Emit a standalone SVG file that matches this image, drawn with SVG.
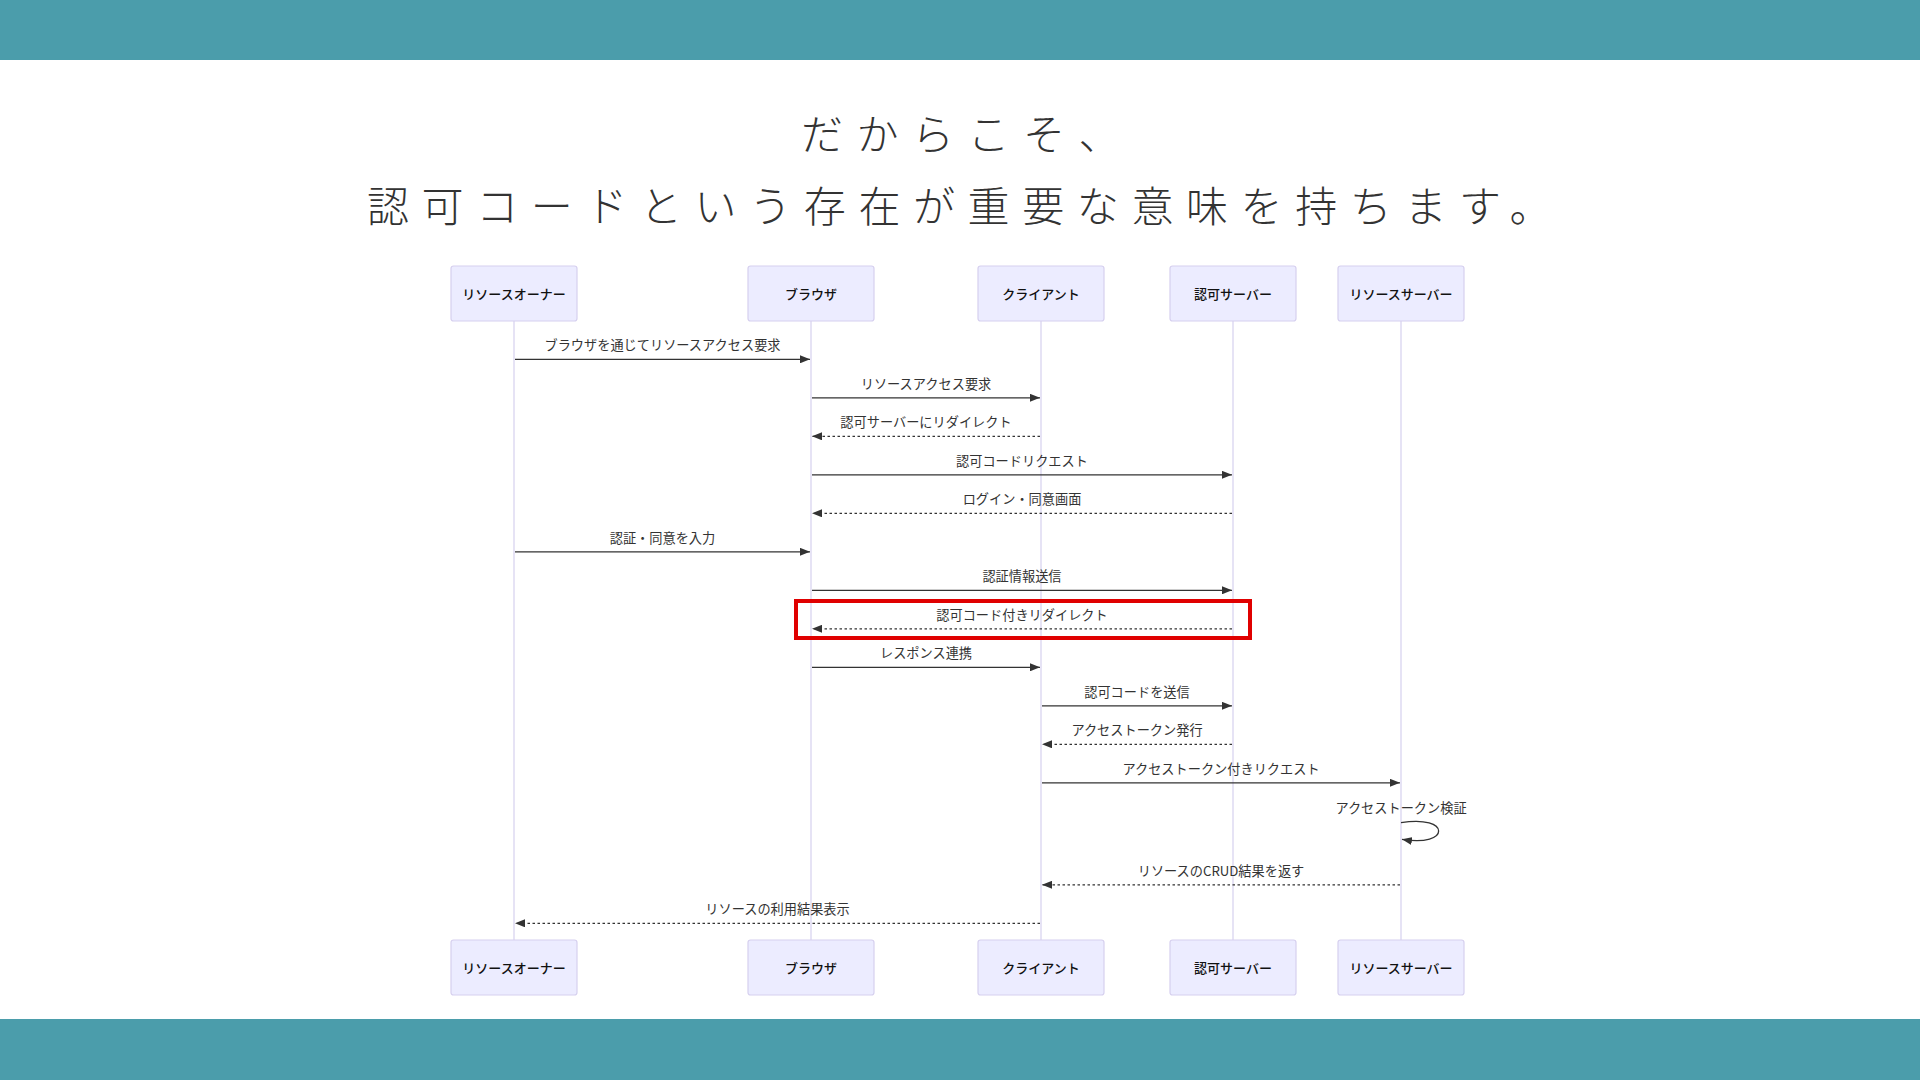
<svg xmlns="http://www.w3.org/2000/svg" width="1920" height="1080" viewBox="0 0 1920 1080">
<style>
.bar{fill:#4b9dab}
.title{font-family:"Noto Sans CJK JP","Noto Sans",sans-serif;font-size:42px;font-weight:300;letter-spacing:13px;fill:#333}
.actor rect{fill:#ececff;stroke:#d6d0ef;stroke-width:1.2}
.actor text{font-family:"Noto Sans CJK JP","Noto Sans",sans-serif;font-size:13px;font-weight:500;fill:#111;text-anchor:middle;dominant-baseline:central}
.life{stroke:#d6d0ef;stroke-width:1.2}
.msg{stroke:#333;stroke-width:1.3;fill:none}
.dot{stroke-dasharray:2.5,2.5}
.lbl{font-family:"Noto Sans CJK JP","Noto Sans",sans-serif;font-size:13.2px;fill:#333;text-anchor:middle}
.hl{fill:none;stroke:#e00000;stroke-width:4}
</style>
<defs>
<marker id="ah" markerUnits="userSpaceOnUse" markerWidth="10" markerHeight="8" refX="10" refY="4" orient="auto">
<path d="M0,0 L10,4 L0,8 z" fill="#333"/>
</marker>
</defs>
<rect class="bar" x="0" y="0" width="1920" height="60"/>
<rect class="bar" x="0" y="1019" width="1920" height="61"/>
<text class="title" x="801" y="150" style="letter-spacing:13.5px">だからこそ、</text>
<text class="title" x="367" y="222" style="letter-spacing:12.6px">認可コードという存在が重要な意味を持ちます。</text>

<g id="lifelines">
<line class="life" x1="514" y1="321" x2="514" y2="940"/>
<line class="life" x1="811" y1="321" x2="811" y2="940"/>
<line class="life" x1="1041" y1="321" x2="1041" y2="940"/>
<line class="life" x1="1233" y1="321" x2="1233" y2="940"/>
<line class="life" x1="1401" y1="321" x2="1401" y2="940"/>
</g>

<g id="owner" class="actor">
<rect x="451" y="266" width="126" height="55" rx="2.5"/><text x="514" y="293.5">リソースオーナー</text>
<rect x="451" y="940" width="126" height="55" rx="2.5"/><text x="514" y="967.5">リソースオーナー</text>
</g>
<g id="browser" class="actor">
<rect x="748" y="266" width="126" height="55" rx="2.5"/><text x="811" y="293.5">ブラウザ</text>
<rect x="748" y="940" width="126" height="55" rx="2.5"/><text x="811" y="967.5">ブラウザ</text>
</g>
<g id="client" class="actor">
<rect x="978" y="266" width="126" height="55" rx="2.5"/><text x="1041" y="293.5">クライアント</text>
<rect x="978" y="940" width="126" height="55" rx="2.5"/><text x="1041" y="967.5">クライアント</text>
</g>
<g id="authserver" class="actor">
<rect x="1170" y="266" width="126" height="55" rx="2.5"/><text x="1233" y="293.5">認可サーバー</text>
<rect x="1170" y="940" width="126" height="55" rx="2.5"/><text x="1233" y="967.5">認可サーバー</text>
</g>
<g id="resourceserver" class="actor">
<rect x="1338" y="266" width="126" height="55" rx="2.5"/><text x="1401" y="293.5">リソースサーバー</text>
<rect x="1338" y="940" width="126" height="55" rx="2.5"/><text x="1401" y="967.5">リソースサーバー</text>
</g>

<g id="connectors">
<line class="msg" x1="515" y1="359.3" x2="810" y2="359.3" marker-end="url(#ah)"/>
<text class="lbl" x="662.5" y="350.3">ブラウザを通じてリソースアクセス要求</text>
<line class="msg" x1="812" y1="397.8" x2="1040" y2="397.8" marker-end="url(#ah)"/>
<text class="lbl" x="926" y="388.8">リソースアクセス要求</text>
<line class="msg dot" x1="1040" y1="436.3" x2="812" y2="436.3" marker-end="url(#ah)"/>
<text class="lbl" x="926" y="427.3">認可サーバーにリダイレクト</text>
<line class="msg" x1="812" y1="474.8" x2="1232" y2="474.8" marker-end="url(#ah)"/>
<text class="lbl" x="1022" y="465.8">認可コードリクエスト</text>
<line class="msg dot" x1="1232" y1="513.3" x2="812" y2="513.3" marker-end="url(#ah)"/>
<text class="lbl" x="1022" y="504.3">ログイン・同意画面</text>
<line class="msg" x1="515" y1="551.8" x2="810" y2="551.8" marker-end="url(#ah)"/>
<text class="lbl" x="662.5" y="542.8">認証・同意を入力</text>
<line class="msg" x1="812" y1="590.3" x2="1232" y2="590.3" marker-end="url(#ah)"/>
<text class="lbl" x="1022" y="581.3">認証情報送信</text>
<line class="msg dot" x1="1232" y1="628.8" x2="812" y2="628.8" marker-end="url(#ah)"/>
<text class="lbl" x="1022" y="619.8">認可コード付きリダイレクト</text>
<line class="msg" x1="812" y1="667.3" x2="1040" y2="667.3" marker-end="url(#ah)"/>
<text class="lbl" x="926" y="658.3">レスポンス連携</text>
<line class="msg" x1="1042" y1="705.8" x2="1232" y2="705.8" marker-end="url(#ah)"/>
<text class="lbl" x="1137" y="696.8">認可コードを送信</text>
<line class="msg dot" x1="1232" y1="744.3" x2="1042" y2="744.3" marker-end="url(#ah)"/>
<text class="lbl" x="1137" y="735.3">アクセストークン発行</text>
<line class="msg" x1="1042" y1="782.8" x2="1400" y2="782.8" marker-end="url(#ah)"/>
<text class="lbl" x="1221" y="773.8">アクセストークン付きリクエスト</text>
<path class="msg" d="M1401,822.7 C1451,814.3 1451,847.7 1402,839.3" marker-end="url(#ah)"/>
<text class="lbl" x="1401" y="813">アクセストークン検証</text>
<line class="msg dot" x1="1400" y1="884.8" x2="1042" y2="884.8" marker-end="url(#ah)"/>
<text class="lbl" x="1221" y="875.8">リソースのCRUD結果を返す</text>
<line class="msg dot" x1="1040" y1="923.3" x2="515" y2="923.3" marker-end="url(#ah)"/>
<text class="lbl" x="777.5" y="914.3">リソースの利用結果表示</text>
</g>

<rect id="highlight" class="hl" x="796" y="601" width="454" height="37"/>
</svg>
